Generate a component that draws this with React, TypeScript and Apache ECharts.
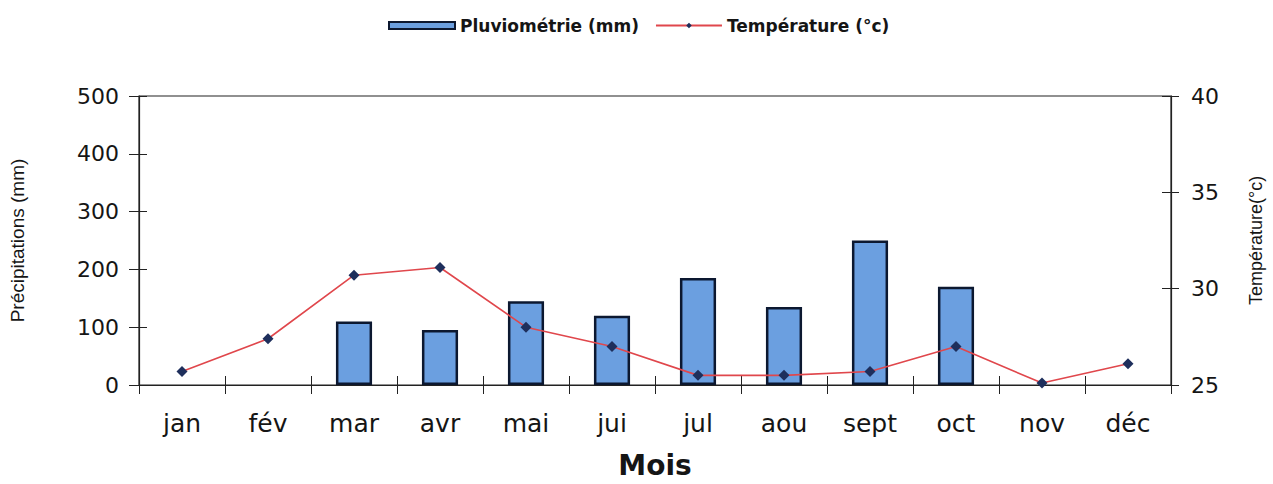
import React, { useEffect, useRef } from "react";
import * as echarts from "echarts";

const months = ["jan", "fév", "mar", "avr", "mai", "jui", "jul", "aou", "sept", "oct", "nov", "déc"];
const rainfall = [0, 0, 110, 95, 145, 120, 185, 135, 250, 170, 0, 0];
const temperature = [25.7, 27.4, 30.7, 31.1, 28.0, 27.0, 25.5, 25.5, 25.7, 27.0, 25.1, 26.1];
const rainTicks = { min: 0, max: 500, interval: 100 };
const tempTicks = { min: 25, max: 40, interval: 5 };

const WIDE = "'DejaVu Sans', Verdana, sans-serif";
const ARIAL = "'Liberation Sans', Arial, sans-serif";
const DARK = "#222";
const TEXT = "#151515";

export default function App() {
  const ref = useRef<HTMLDivElement>(null);
  useEffect(() => {
    if (!ref.current) return;
    const chart = echarts.init(ref.current, undefined, { renderer: "svg" });
    const axisLine = { show: true, lineStyle: { color: DARK, width: 1.2 } };
    const barData = rainfall.map((v) =>
      v === 0 ? { value: v, itemStyle: { borderWidth: 0, opacity: 0 } } : v
    );
    chart.setOption({
      animation: false,
      backgroundColor: "#fff",
      textStyle: { fontFamily: WIDE },
      legend: {
        top: 12,
        left: 383,
        itemWidth: 66,
        itemHeight: 7,
        itemGap: 16,
        textStyle: { fontSize: 17, fontWeight: "bold", color: TEXT, fontFamily: WIDE },
        data: [
          { name: "Pluviométrie (mm)", icon: "rect" },
          { name: "Température (°c)" },
        ],
      },
      grid: {
        left: 139,
        right: 100,
        top: 96,
        bottom: 94,
        show: true,
        borderColor: DARK,
        borderWidth: 1.2,
      },
      xAxis: [
        {
          type: "category",
          data: months,
          position: "bottom",
          boundaryGap: true,
          axisLine,
          axisTick: { show: true, inside: false, length: 9, lineStyle: { color: DARK } },
          axisLabel: { color: TEXT, fontSize: 25, margin: 26, fontFamily: WIDE },
          name: "Mois",
          nameLocation: "middle",
          nameGap: 66,
          nameTextStyle: { fontSize: 28, fontWeight: "bold", color: TEXT, fontFamily: WIDE },
        },
        {
          type: "category",
          data: months,
          position: "bottom",
          boundaryGap: true,
          axisLine: { show: false },
          axisTick: { show: true, inside: true, length: 9, lineStyle: { color: DARK } },
          axisLabel: { show: false },
        },
      ],
      yAxis: [
        {
          type: "value",
          position: "left",
          ...rainTicks,
          axisLine,
          axisTick: { show: true, inside: false, length: 10, lineStyle: { color: DARK } },
          axisLabel: { color: TEXT, fontSize: 22, margin: 20, fontFamily: WIDE },
          splitLine: { show: false },
          name: "Précipitations (mm)",
          nameLocation: "middle",
          nameRotate: 90,
          nameGap: 112,
          nameTextStyle: { fontSize: 19, color: TEXT, fontFamily: ARIAL },
        },
        {
          type: "value",
          position: "right",
          ...tempTicks,
          axisLine,
          axisTick: { show: true, inside: false, length: 8, lineStyle: { color: DARK } },
          axisLabel: { color: TEXT, fontSize: 22, margin: 20, fontFamily: WIDE },
          splitLine: { show: false },
          name: "Température(°c)",
          nameLocation: "middle",
          nameRotate: 90,
          nameGap: 76,
          nameTextStyle: { fontSize: 18, color: TEXT, fontFamily: ARIAL },
        },
        {
          type: "value",
          position: "left",
          ...rainTicks,
          axisLine: { show: false },
          axisTick: { show: true, inside: true, length: 8, lineStyle: { color: DARK } },
          axisLabel: { show: false },
          splitLine: { show: false },
        },
        {
          type: "value",
          position: "right",
          ...tempTicks,
          axisLine: { show: false },
          axisTick: { show: true, inside: true, length: 9, lineStyle: { color: DARK } },
          axisLabel: { show: false },
          splitLine: { show: false },
        },
      ],
      series: [
        {
          name: "Pluviométrie (mm)",
          type: "bar",
          xAxisIndex: 0,
          yAxisIndex: 0,
          data: barData,
          barWidth: "42%",
          itemStyle: { color: "#6b9fe0", borderColor: "#0c1830", borderWidth: 2.5 },
        },
        {
          name: "Température (°c)",
          type: "line",
          xAxisIndex: 0,
          yAxisIndex: 1,
          data: temperature,
          symbol: "diamond",
          symbolSize: 11,
          lineStyle: { color: "#e0474c", width: 1.6 },
          itemStyle: { color: "#1e2f5c" },
          z: 5,
        },
      ],
    });
    return () => chart.dispose();
  }, []);
  return (
    <div
      ref={ref}
      style={{ position: "fixed", left: 0, top: 0, width: 1273, height: 484, background: "#fff" }}
    />
  );
}
